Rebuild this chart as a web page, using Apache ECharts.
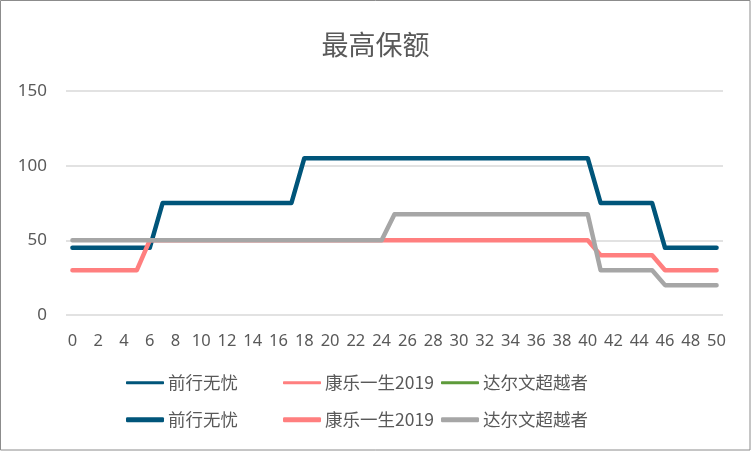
<!DOCTYPE html>
<html>
<head>
<meta charset="utf-8">
<script src="https://cdn.jsdelivr.net/npm/echarts@6/dist/echarts.min.js"></script>
<style>
	html, body { margin: 0; padding: 0; background: #fff; }
	#chart { width: 751px; height: 451px; }
</style>
</head>
<body>
<div id="chart"></div>
<script>
// 年龄 0..50
var ages = [];
for (var i = 0; i <= 50; i++) ages.push(String(i));

var names = ['前行无忧', '康乐一生2019', '达尔文超越者'];
var yTicks = [0, 50, 100, 150];

var qianxing = [45, 45, 45, 45, 45, 45, 45, 75, 75, 75, 75, 75, 75, 75, 75, 75, 75, 75, 105, 105, 105, 105, 105, 105, 105, 105,
	105, 105, 105, 105, 105, 105, 105, 105, 105, 105, 105, 105, 105, 105, 105, 75, 75, 75, 75, 75, 45, 45, 45, 45, 45];
var kangle = [30, 30, 30, 30, 30, 30, 50, 50, 50, 50, 50, 50, 50, 50, 50, 50, 50, 50, 50, 50, 50, 50, 50, 50, 50, 50,
	50, 50, 50, 50, 50, 50, 50, 50, 50, 50, 50, 50, 50, 50, 50, 40, 40, 40, 40, 40, 30, 30, 30, 30, 30];
var darwin = [50, 50, 50, 50, 50, 50, 50, 50, 50, 50, 50, 50, 50, 50, 50, 50, 50, 50, 50, 50, 50, 50, 50, 50, 50, 67.5,
	67.5, 67.5, 67.5, 67.5, 67.5, 67.5, 67.5, 67.5, 67.5, 67.5, 67.5, 67.5, 67.5, 67.5, 67.5, 30, 30, 30, 30, 30, 20, 20, 20, 20, 20];

var thinColors = ['#00557A', '#FF7F7F', '#5E9B3B'];
var thickColors = ['#00557A', '#FF7F7F', '#A6A6A6'];
var values = [qianxing, kangle, darwin];

var myChart = echarts.init(document.getElementById('chart'));

var series = [];
var legends = [];
var legendLeft = [126, 283, 441];
for (var k = 0; k < 3; k++) {
	series.push({
		name: names[k] + '#1',
		type: 'line',
		data: values[k],
		symbol: 'none',
		lineStyle: { color: thinColors[k], width: 2.5, cap: 'round' },
		itemStyle: { color: thinColors[k] },
		z: 1
	});
	legends.push({ data: [names[k] + '#1'], left: legendLeft[k], top: 374, itemHeight: 3 });
}
for (var k = 0; k < 3; k++) {
	series.push({
		name: names[k] + '#2',
		type: 'line',
		data: values[k],
		symbol: 'none',
		lineStyle: { color: thickColors[k], width: 4.5, cap: 'round', join: 'round' },
		itemStyle: { color: thickColors[k] },
		z: 3
	});
	legends.push({ data: [names[k] + '#2'], left: legendLeft[k], top: 411, itemHeight: 5 });
}
legends.forEach(function(l) {
	l.icon = 'roundRect';
	l.itemWidth = 38;
	l.itemGap = 4;
	l.padding = 0;
	l.height = 22;
	l.textStyle = { color: '#595959', fontSize: 17.5, fontFamily: 'Noto Sans CJK SC', padding: [0, 0, 0, -1] };
	l.formatter = function(n) { return n.split('#')[0]; };
});

var option = {
	animation: false,
	title: {
		text: '最高保额',
		left: 'center',
		top: 26,
		textStyle: { color: '#595959', fontSize: 27, fontWeight: 'normal', fontFamily: 'Noto Sans CJK SC' }
	},
	graphic: [{
		type: 'rect',
		shape: { x: 0.5, y: 0.5, width: 749.5, height: 449.5 },
		style: { fill: 'none', stroke: '#8C8C8C', lineWidth: 1 },
		silent: true
	}],
	legend: legends,
	grid: { left: 66, right: 28, top: 91, bottom: 136 },
	xAxis: {
		type: 'category',
		data: ages,
		boundaryGap: true,
		axisLine: { show: false },
		axisTick: { show: false },
		axisLabel: {
			interval: 1,
			hideOverlap: false,
			color: '#595959',
			fontSize: 16.5,
			fontFamily: 'Noto Sans',
			margin: 18
		}
	},
	yAxis: {
		type: 'value',
		min: yTicks[0],
		max: yTicks[yTicks.length - 1],
		interval: 50,
		axisLine: { show: false },
		axisTick: { show: false },
		axisLabel: { color: '#595959', fontSize: 17, fontFamily: 'Noto Sans', margin: 19 },
		splitLine: { lineStyle: { color: '#D9D9D9', width: 1.5 } }
	},
	series: series
};
myChart.setOption(option);
</script>
</body>
</html>
